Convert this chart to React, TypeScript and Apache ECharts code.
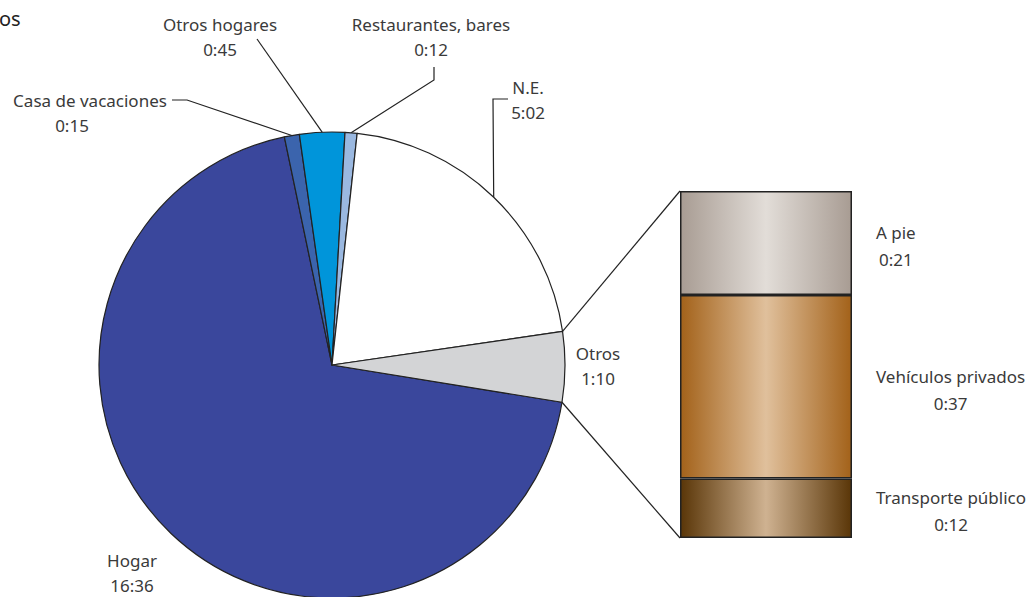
import React, { useEffect, useRef } from "react";
import * as echarts from "echarts";

// ---- data ----
const placeNames = ["Hogar", "Casa de vacaciones", "Otros hogares", "Restaurantes, bares", "N.E.", "Otros"];
const placeTimes = ["16:36", "0:15", "0:45", "0:12", "5:02", "1:10"];
const placeColors = ["#3a479c", "#3b64ad", "#0095da", "#9ab8e0", "#ffffff", "#d3d4d6"];

const otrosNames = ["Transporte público", "Vehículos privados", "A pie"];
const otrosTimes = ["0:12", "0:37", "0:21"];

const toMin = (s: string) => {
  const [h, m] = s.split(":").map(Number);
  return h * 60 + m;
};
const fmt = (v: number) => `${Math.floor(v / 60)}:${String(v % 60).padStart(2, "0")}`;

const placeValues = placeTimes.map(toMin);
const otrosValues = otrosTimes.map(toMin);

// ---- layout ----
const CX = 332;
const CY = 365;
const R = 233;
const START = 350.8;
const GRID = { left: 680, top: 191, width: 172, height: 347 };
const FONT = "'Noto Sans', sans-serif";
const TEXT = "#3a3a3a";
const FS = 17;

// label anchors (block centres) and leader-line bends
const labelAnchors: { x: number; y: number; bend: number[][] | null }[] = [
  { x: 132, y: 573, bend: null },
  { x: 90, y: 113, bend: [[187, 100], [172, 100]] },
  { x: 220, y: 37, bend: [[257, 39]] },
  { x: 431, y: 37, bend: [[434, 80], [434, 67]] },
  { x: 528, y: 100, bend: [[493, 99], [508, 99]] },
  { x: 598, y: 366, bend: null },
];

const total = placeValues.reduce((a, b) => a + b, 0);
const angleAt = (cum: number) => ((START - (cum / total) * 360) * Math.PI) / 180;
const pt = (a: number) => [CX + R * Math.cos(a), CY - R * Math.sin(a)];
const cums: number[] = [];
placeValues.reduce((acc, v, i) => {
  cums[i] = acc;
  return acc + v;
}, 0);
const midPoint = (i: number) => pt(angleAt(cums[i] + placeValues[i] / 2));

export default function App() {
  const ref = useRef<HTMLDivElement>(null);
  useEffect(() => {
    if (!ref.current) return;
    const chart = echarts.init(ref.current, null, { renderer: "svg" });
    const otrosIdx = placeNames.indexOf("Otros");
    const bStart = pt(angleAt(cums[otrosIdx]));
    const bEnd = pt(angleAt(cums[otrosIdx] + placeValues[otrosIdx]));

    const grad = (edge: string, mid: string) =>
      new echarts.graphic.LinearGradient(0, 0, 1, 0, [
        { offset: 0, color: edge },
        { offset: 0.5, color: mid },
        { offset: 1, color: edge },
      ]);
    const barFills = [grad("#5a3608", "#cfb291"), grad("#a3621a", "#e0c09c"), grad("#a89c93", "#e2ddd8")];

    chart.setOption({
      animation: false,
      backgroundColor: "#ffffff",
      textStyle: { fontFamily: FONT },
      grid: { left: GRID.left, top: GRID.top, width: GRID.width, height: GRID.height },
      xAxis: { type: "category", data: ["Otros"], show: false },
      yAxis: { type: "value", min: 0, max: otrosValues.reduce((a, b) => a + b, 0), show: false },
      graphic: [
        {
          type: "text",
          left: -1,
          top: 8,
          style: { text: "os", fontFamily: FONT, fontSize: 20, fontWeight: 400, fill: "#222" },
        },
        {
          type: "line",
          shape: { x1: bStart[0], y1: bStart[1], x2: GRID.left, y2: GRID.top },
          style: { stroke: "#222", lineWidth: 1.2 },
        },
        {
          type: "line",
          shape: { x1: bEnd[0], y1: bEnd[1], x2: GRID.left, y2: GRID.top + GRID.height },
          style: { stroke: "#222", lineWidth: 1.2 },
        },
      ],
      series: [
        {
          type: "pie",
          center: [CX, CY],
          radius: [0, R],
          startAngle: START,
          clockwise: true,
          avoidLabelOverlap: false,
          itemStyle: { borderColor: "#222", borderWidth: 1.2 },
          label: {
            show: true,
            position: "outside",
            color: TEXT,
            fontFamily: FONT,
            fontSize: FS,
            lineHeight: 25,
            align: "center",
            formatter: (p: any) =>
              p.name === "Casa de vacaciones"
                ? `{a|${p.name}}\n{b|${fmt(p.value)}}`
                : `${p.name}\n${fmt(p.value)}`,
            rich: {
              a: { fontFamily: FONT, fontSize: FS, lineHeight: 25, color: TEXT },
              b: { fontFamily: FONT, fontSize: FS, lineHeight: 25, color: TEXT, padding: [0, 36, 0, 0] },
            },
          },
          labelLine: { show: true, lineStyle: { color: "#222", width: 1.2 } },
          labelLayout: (params: any) => {
            const i = params.dataIndex;
            const a = labelAnchors[i];
            const out: any = { x: a.x, y: a.y, align: "center", verticalAlign: "middle" };
            if (a.bend) out.labelLinePoints = [midPoint(i), ...a.bend];
            return out;
          },
          data: placeNames.map((n, i) => ({
            name: n,
            value: placeValues[i],
            itemStyle: { color: placeColors[i] },
            labelLine: { show: !!labelAnchors[i].bend },
          })),
        },
        ...otrosNames.map((n, i) => ({
          type: "bar",
          name: n,
          stack: "otros",
          barWidth: "100%",
          data: [otrosValues[i]],
          itemStyle: { color: barFills[i], borderColor: "#222", borderWidth: 1.5 },
          label: {
            show: true,
            position: "right",
            distance: 24,
            color: TEXT,
            fontFamily: FONT,
            fontSize: FS,
            lineHeight: 27,
            align: "center",
            formatter: (p: any) => `${p.seriesName}\n${fmt(p.value)}`,
          },
          labelLayout: (params: any) => ({
            x: params.rect.x + params.rect.width + 24 + params.labelRect.width / 2,
            y: params.rect.y + params.rect.height / 2 + 3,
            align: "center",
            verticalAlign: "middle",
          }),
        })),
      ],
    });
    return () => chart.dispose();
  }, []);
  return (
    <div
      ref={ref}
      style={{ position: "absolute", left: 0, top: 0, width: 1032, height: 597, background: "#fff" }}
    />
  );
}
